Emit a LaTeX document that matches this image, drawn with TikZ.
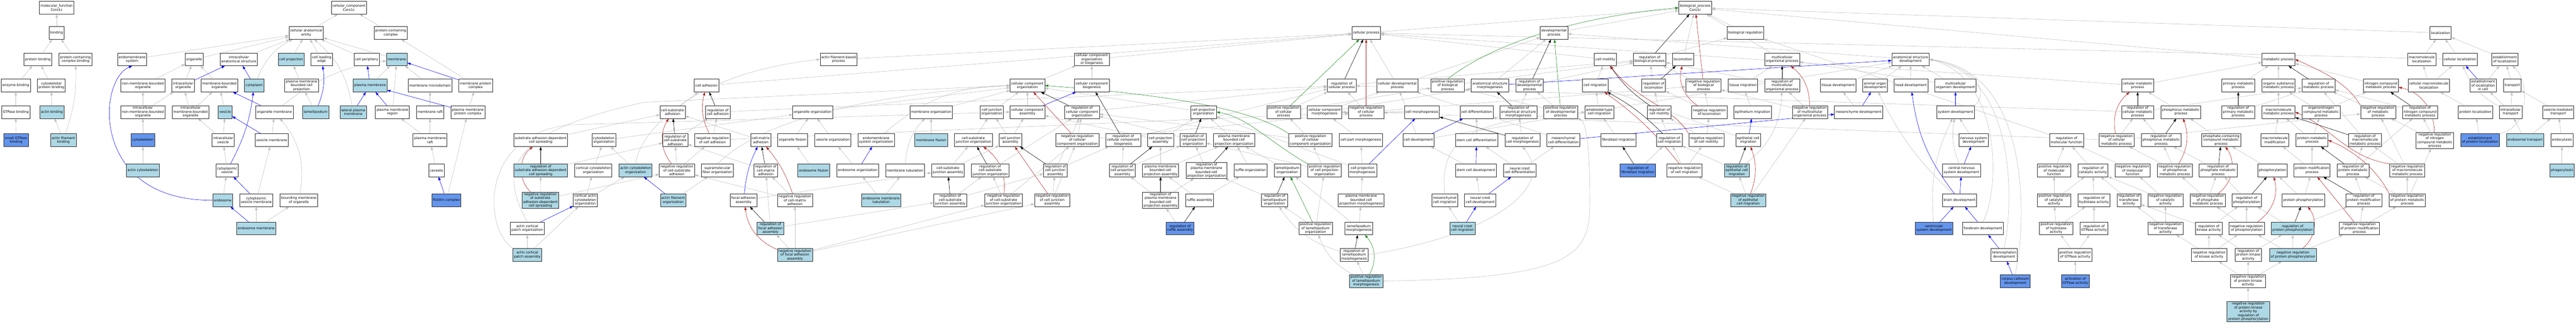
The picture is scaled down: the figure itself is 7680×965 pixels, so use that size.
\documentclass[tikz,border=0pt]{standalone}
\usepackage{fontspec}
\newfontfamily\gofont{DejaVu Sans}
\usetikzlibrary{arrows.meta,backgrounds}
\definecolor{hitblue}{HTML}{ADD8E6}
\definecolor{seedblue}{HTML}{6495ED}
\definecolor{isagray}{HTML}{C0C0C0}
\definecolor{negred}{HTML}{B22222}
\definecolor{posgreen}{HTML}{228B22}
\begin{document}
\begin{tikzpicture}[x=1pt,y=-1pt,
  term/.style={draw=black!85,line width=0.9pt,fill=white,align=center,font=\gofont\fontsize{10}{11.5}\selectfont,inner xsep=3.5pt,inner ysep=2pt,minimum height=38pt},
  hit/.style={term,fill=hitblue},
  seed/.style={term,fill=seedblue},
  link/.style={line width=0.9pt,-{Triangle[length=10pt,width=7pt]}},
  isa/.style={link,isagray},
  partof/.style={link,blue},
  regs/.style={link,black},
  negregs/.style={link,negred},
  posregs/.style={link,posgreen}]
\useasboundingbox (0,0) rectangle (7680,965);

\node[term] (mfroot) at (169,23) {molecular\_function\\Coro1c};
\node[term] (bind) at (169,98) {binding};
\node[term] (protbind) at (113,177) {protein binding};
\node[term] (pccbind) at (225,177) {protein-containing\\complex binding};
\node[term] (enzbind) at (47,255) {enzyme binding};
\node[term] (cytprotbind) at (153,255) {cytoskeletal\\protein binding};
\node[term] (gtpbind) at (47,334) {GTPase binding};
\node[hit] (actbind) at (155,334) {actin binding};
\node[seed] (sgtpbind) at (48,418) {small GTPase\\binding};
\node[hit] (actfilbind) at (189,418) {actin filament\\binding};

\node[term] (ccroot) at (1040,23) {cellular\_component\\Coro1c};
\node[term] (cae) at (913,98) {cellular anatomical\\entity};
\node[term] (pcc) at (1165,98) {protein-containing\\complex};
\node[term] (ems) at (394,177) {endomembrane\\system};
\node[term] (org) at (579,177) {organelle};
\node[term] (ias) at (712,177) {intracellular\\anatomical structure};
\node[hit] (cproj) at (868,177) {cell projection};
\node[term] (cle) at (959,177) {cell leading\\edge};
\node[term] (cper) at (1093,177) {cell periphery};
\node[hit] (mem) at (1183,177) {membrane};
\node[term] (nmbo) at (426,255) {non-membrane-bounded\\organelle};
\node[term] (io) at (546,255) {intracellular\\organelle};
\node[term] (mbo) at (654,255) {membrane-bounded\\organelle};
\node[hit] (cyto) at (758,255) {cytoplasm};
\node[term] (pmbcp) at (899,255) {plasma membrane\\bounded cell\\projection};
\node[hit] (pmemb) at (1103,255) {plasma membrane};
\node[term] (mmd) at (1282,255) {membrane microdomain};
\node[term] (mpc) at (1418,255) {membrane protein\\complex};
\node[term] (inmbo) at (426,334) {intracellular\\non-membrane-bounded\\organelle};
\node[term] (imbo) at (568,334) {intracellular\\membrane-bounded\\organelle};
\node[hit] (ves) at (671,334) {vesicle};
\node[term] (orgmem) at (818,334) {organelle membrane};
\node[hit] (lam) at (941,334) {lamellipodium};
\node[hit] (lpm) at (1053,334) {lateral plasma\\membrane};
\node[term] (pmr) at (1170,334) {plasma membrane\\region};
\node[term] (mraft) at (1282,334) {membrane raft};
\node[term] (pmpc) at (1395,334) {plasma membrane\\protein complex};
\node[seed] (cytosk) at (426,418) {cytoskeleton};
\node[term] (iv) at (665,418) {intracellular\\vesicle};
\node[term] (vesmem) at (810,418) {vesicle membrane};
\node[term] (pmraft) at (1282,418) {plasma membrane\\raft};
\node[hit] (actcyto) at (426,508) {actin cytoskeleton};
\node[term] (cv) at (677,508) {cytoplasmic\\vesicle};
\node[term] (cav) at (1301,508) {caveola};
\node[hit] (endo) at (664,597) {endosome};
\node[term] (cvm) at (764,597) {cytoplasmic\\vesicle membrane};
\node[term] (bmo) at (891,597) {bounding membrane\\of organelle};
\node[seed] (flot) at (1331,597) {flotillin complex};
\node[hit] (endomem) at (764,681) {endosome membrane};

\node[term] (sadcs) at (1612,418) {substrate adhesion-dependent\\cell spreading};
\node[term] (cso) at (1800,418) {cytoskeleton\\organization};
\node[hit] (rsadcs) at (1612,508) {regulation of\\substrate adhesion-dependent\\cell spreading};
\node[term] (cco) at (1769,508) {cortical cytoskeleton\\organization};
\node[hit] (aco) at (1895,508) {actin cytoskeleton\\organization};
\node[hit] (nrsadcs) at (1611,597) {negative regulation\\of substrate\\adhesion-dependent\\cell spreading};
\node[term] (caco) at (1745,597) {cortical actin\\cytoskeleton\\organization};
\node[term] (acpo) at (1572,681) {actin cortical\\patch organization};
\node[hit] (acpa) at (1572,760) {actin cortical\\patch assembly};
\node[term] (afbp) at (2500,177) {actin filament-based\\process};
\node[term] (cadh) at (2106,255) {cell adhesion};
\node[term] (csadh) at (2005,334) {cell-substrate\\adhesion};
\node[term] (rcadh) at (2140,334) {regulation of\\cell adhesion};
\node[term] (oo) at (2423,334) {organelle organization};
\node[term] (rcsadh) at (2013,418) {regulation of\\cell-substrate\\adhesion};
\node[term] (nrcadh) at (2124,418) {negative regulation\\of cell adhesion};
\node[term] (cmadh) at (2268,418) {cell-matrix\\adhesion};
\node[term] (ofis) at (2363,418) {organelle fission};
\node[term] (vo) at (2483,418) {vesicle organization};
\node[term] (emso) at (2612,418) {endomembrane\\system organization};
\node[term] (nrcsadh) at (2018,508) {negative regulation\\of cell-substrate\\adhesion};
\node[term] (sfo) at (2139,508) {supramolecular\\fiber organization};
\node[term] (rcmadh) at (2283,508) {regulation of\\cell-matrix\\adhesion};
\node[hit] (efis) at (2426,508) {endosome fission};
\node[term] (eo) at (2557,508) {endosome organization};
\node[hit] (afo) at (2007,597) {actin filament\\organization};
\node[term] (faa) at (2217,597) {focal adhesion\\assembly};
\node[term] (nrcmadh) at (2370,597) {negative regulation\\of cell-matrix\\adhesion};
\node[hit] (rfaa) at (2297,681) {regulation of\\focal adhesion\\assembly};
\node[hit] (nrfaa) at (2370,760) {negative regulation\\of focal adhesion\\assembly};

\node[term] (ccorg) at (3063,255) {cellular component\\organization};
\node[term] (morg) at (2776,334) {membrane organization};
\node[term] (cjo) at (2957,334) {cell junction\\organization};
\node[term] (cca) at (3063,334) {cellular component\\assembly};
\node[term] (rcco) at (3226,334) {regulation of\\cellular component\\organization};
\node[hit] (mfis) at (2776,418) {membrane fission};
\node[term] (csjo) at (2902,418) {cell-substrate\\junction organization};
\node[term] (cja) at (3012,418) {cell junction\\assembly};
\node[term] (nrcco) at (3212,418) {negative regulation\\of cellular\\component organization};
\node[term] (mtub) at (2698,508) {membrane tubulation};
\node[term] (csja) at (2826,508) {cell-substrate\\junction assembly};
\node[term] (rcsjo) at (2952,508) {regulation of\\cell-substrate\\junction organization};
\node[term] (rcja) at (3146,508) {regulation of\\cell junction\\assembly};
\node[hit] (emt) at (2627,597) {endosome membrane\\tubulation};
\node[term] (rcsja) at (2833,597) {regulation of\\cell-substrate\\junction assembly};
\node[term] (nrcsjo) at (2992,597) {negative regulation\\of cell-substrate\\junction organization};
\node[term] (nrcja) at (3137,597) {negative regulation\\of cell junction\\assembly};

\node[term] (ccob) at (3255,177) {cellular component\\organization\\or biogenesis};
\node[term] (ccb) at (3255,255) {cellular component\\biogenesis};
\node[term] (cpo) at (3588,334) {cell projection\\organization};
\node[term] (pcp) at (3827,334) {positive regulation\\of cellular\\process};
\node[term] (rccb) at (3349,418) {regulation of\\cellular component\\biogenesis};
\node[term] (cpa) at (3460,418) {cell projection\\assembly};
\node[term] (rcpo) at (3557,418) {regulation of\\cell projection\\organization};
\node[term] (pmbcpo) at (3679,418) {plasma membrane\\bounded cell\\projection organization};
\node[term] (rcpa) at (3346,508) {regulation of\\cell projection\\assembly};
\node[term] (pmbcpa) at (3460,508) {plasma membrane\\bounded cell\\projection assembly};
\node[term] (rpmbcpo) at (3597,508) {regulation of\\plasma membrane\\bounded cell\\projection organization};
\node[term] (ruforg) at (3728,508) {ruffle organization};
\node[term] (lamorg) at (3838,508) {lamellipodium\\organization};
\node[term] (rpmbcpa) at (3460,597) {regulation of\\plasma membrane\\bounded cell\\projection assembly};
\node[term] (rufa) at (3576,597) {ruffle assembly};
\node[term] (rlo) at (3800,597) {regulation of\\lamellipodium\\organization};
\node[seed] (rra) at (3518,681) {regulation of\\ruffle assembly};

\node[term] (cellproc) at (4073,98) {cellular process};
\node[term] (rcp) at (4000,255) {regulation of\\cellular process};
\node[term] (cdp) at (4166,255) {cellular developmental\\process};
\node[term] (pbp) at (4316,255) {positive regulation\\of biological\\process};
\node[term] (asm) at (4442,255) {anatomical structure\\morphogenesis};
\node[term] (ccm) at (3949,334) {cellular component\\morphogenesis};
\node[term] (nrcp) at (4073,334) {negative regulation\\of cellular\\process};
\node[term] (cmorph) at (4239,334) {cell morphogenesis};
\node[term] (cdiff) at (4402,334) {cell differentiation};
\node[term] (rasm) at (4527,334) {regulation of\\anatomical structure\\morphogenesis};
\node[term] (pcco) at (3907,418) {positive regulation\\of cellular\\component organization};
\node[term] (cpm) at (4057,418) {cell part morphogenesis};
\node[term] (cdev) at (4229,418) {cell development};
\node[term] (scdiff) at (4402,418) {stem cell differentiation};
\node[term] (ppco) at (3949,508) {positive regulation\\of cell projection\\organization};
\node[term] (cpmorph) at (4062,508) {cell projection\\morphogenesis};
\node[term] (scdev) at (4400,508) {stem cell development};
\node[term] (pmbcpm) at (4058,597) {plasma membrane\\bounded cell\\projection morphogenesis};
\node[term] (mcm) at (4307,597) {mesenchymal\\cell migration};
\node[term] (nccdev) at (4413,597) {neural crest\\cell development};
\node[term] (plo) at (3922,681) {positive regulation\\of lamellipodium\\organization};
\node[term] (lmorph) at (4051,681) {lamellipodium\\morphogenesis};
\node[hit] (nccm) at (4360,681) {neural crest\\cell migration};
\node[term] (rlm) at (4037,760) {regulation of\\lamellipodium\\morphogenesis};
\node[hit] (plm) at (4073,838) {positive regulation\\of lamellipodium\\morphogenesis};

\node[term] (bproot) at (5054,23) {biological\_process\\Coro1c};
\node[term] (dp) at (4633,98) {developmental\\process};
\node[term] (cmot) at (4786,177) {cell motility};
\node[term] (rbp) at (4918,177) {regulation of\\biological process};
\node[term] (loco) at (5018,177) {locomotion};
\node[term] (rdp) at (4560,255) {regulation of\\developmental\\process};
\node[term] (cmig) at (4756,255) {cell migration};
\node[term] (rloc) at (4930,255) {regulation of\\locomotion};
\node[term] (nbp) at (5079,255) {negative regulation\\of biological\\process};
\node[term] (pdp) at (4653,334) {positive regulation\\of developmental\\process};
\node[term] (ameb) at (4768,334) {ameboidal-type\\cell migration};
\node[term] (rcmot) at (4947,334) {regulation of\\cell motility};
\node[term] (nloc) at (5096,334) {negative regulation\\of locomotion};
\node[term] (rcmorph) at (4539,418) {regulation of\\cell morphogenesis};
\node[term] (mcdiff) at (4661,418) {mesenchymal\\cell differentiation};
\node[term] (fm) at (4825,418) {fibroblast migration};
\node[term] (rcm) at (4977,418) {regulation of\\cell migration};
\node[term] (nrcmot) at (5087,418) {negative regulation\\of cell motility};
\node[term] (nccdiff) at (4531,508) {neural crest\\cell differentiation};
\node[seed] (rfm) at (4883,508) {regulation of\\fibroblast migration};
\node[term] (nrcm) at (5022,508) {negative regulation\\of cell migration};

\node[term] (breg) at (5204,98) {biological regulation};
\node[term] (mop) at (5313,177) {multicellular\\organismal process};
\node[term] (asd) at (5696,177) {anatomical structure\\development};
\node[term] (tm) at (5196,255) {tissue migration};
\node[term] (rmop) at (5313,255) {regulation of\\multicellular\\organismal process};
\node[term] (td) at (5480,255) {tissue development};
\node[term] (aod) at (5590,255) {animal organ\\development};
\node[term] (hd) at (5697,255) {head development};
\node[term] (emig) at (5225,334) {epithelium migration};
\node[term] (nmop) at (5396,334) {negative regulation\\of multicellular\\organismal process};
\node[term] (mesdev) at (5541,334) {mesenchyme development};
\node[term] (ecm) at (5212,418) {epithelial cell\\migration};
\node[hit] (recm) at (5178,508) {regulation of\\epithelial cell\\migration};
\node[hit] (nrecm) at (5212,597) {negative regulation\\of epithelial\\cell migration};
\node[seed] (vsd) at (5766,681) {ventricular\\system development};

\node[term] (mod) at (5830,255) {multicellular\\organism development};
\node[term] (sysdev) at (5830,334) {system development};
\node[term] (nsd) at (5884,418) {nervous system\\development};
\node[term] (cnsd) at (5848,508) {central nervous\\system development};
\node[term] (bd) at (5842,597) {brain development};
\node[term] (fbd) at (5912,681) {forebrain development};
\node[term] (tel) at (5975,760) {telencephalon\\development};
\node[seed] (ccd) at (6008,838) {corpus callosum\\development};

\node[term] (cmp) at (6373,255) {cellular metabolic\\process};
\node[term] (rcmp) at (6373,334) {regulation of\\cellular metabolic\\process};
\node[term] (rmf) at (6161,418) {regulation of\\molecular function};
\node[term] (nrcmp) at (6310,418) {negative regulation\\of cellular\\metabolic process};
\node[term] (rphmp) at (6443,418) {regulation of\\phosphorus metabolic\\process};
\node[term] (prmf) at (6124,508) {positive regulation\\of molecular\\function};
\node[term] (rca) at (6240,508) {regulation of\\catalytic activity};
\node[term] (nrmf) at (6358,508) {negative regulation\\of molecular\\function};
\node[term] (prca) at (6124,597) {positive regulation\\of catalytic\\activity};
\node[term] (rha) at (6243,597) {regulation of\\hydrolase activity};
\node[term] (rta) at (6347,597) {regulation of\\transferase\\activity};
\node[term] (prha) at (6130,681) {positive regulation\\of hydrolase\\activity};
\node[term] (rgta) at (6243,681) {regulation of\\GTPase activity};
\node[term] (prgta) at (6187,760) {positive regulation\\of GTPase activity};
\node[seed] (agta) at (6187,838) {activation of\\GTPase activity};

\node[term] (metp) at (6793,177) {metabolic process};
\node[term] (pmp) at (6673,255) {primary metabolic\\process};
\node[term] (osmp) at (6793,255) {organic substance\\metabolic process};
\node[term] (rmp) at (6912,255) {regulation of\\metabolic process};
\node[term] (phmp) at (6502,334) {phosphorus metabolic\\process};
\node[term] (rpmp) at (6673,334) {regulation of\\primary metabolic\\process};
\node[term] (mmp) at (6793,334) {macromolecule\\metabolic process};
\node[term] (onmp) at (6920,334) {organonitrogen\\compound metabolic\\process};
\node[term] (pcmp) at (6622,418) {phosphate-containing\\compound metabolic\\process};
\node[term] (mmod) at (6782,418) {macromolecule\\modification};
\node[term] (pmetp) at (6893,418) {protein metabolic\\process};
\node[term] (nrphmp) at (6484,508) {negative regulation\\of phosphorus\\metabolic process};
\node[term] (rphomp) at (6613,508) {regulation of\\phosphate metabolic\\process};
\node[term] (phos) at (6775,508) {phosphorylation};
\node[term] (pmodp) at (6893,508) {protein modification\\process};
\node[term] (nrca) at (6456,597) {negative regulation\\of catalytic\\activity};
\node[term] (nrphomp) at (6582,597) {negative regulation\\of phosphate\\metabolic process};
\node[term] (rphos) at (6698,597) {regulation of\\phosphorylation};
\node[term] (pphos) at (6867,597) {protein phosphorylation};
\node[term] (nrta) at (6456,681) {negative regulation\\of transferase\\activity};
\node[term] (rka) at (6585,681) {regulation of\\kinase activity};
\node[term] (nrphos) at (6698,681) {negative regulation\\of phosphorylation};
\node[hit] (rpp) at (6835,681) {regulation of\\protein phosphorylation};
\node[term] (nrka) at (6586,760) {negative regulation\\of kinase activity};
\node[term] (rpka) at (6703,760) {regulation of\\protein kinase\\activity};
\node[hit] (nrpp) at (6836,760) {negative regulation\\of protein phosphorylation};
\node[term] (nrpka) at (6702,838) {negative regulation\\of protein kinase\\activity};
\node[hit] (nrpkab) at (6703,929) {negative regulation\\of protein kinase\\activity by\\regulation of\\protein phosphorylation};

\node[term] (loc) at (7276,98) {localization};
\node[term] (mloc) at (7220,177) {macromolecule\\localization};
\node[term] (cloc) at (7334,177) {cellular localization};
\node[term] (eloc) at (7468,177) {establishment\\of localization};
\node[term] (ncmp) at (7098,255) {nitrogen compound\\metabolic process};
\node[term] (cml) at (7241,255) {cellular macromolecule\\localization};
\node[term] (elic) at (7403,255) {establishment\\of localization\\in cell};
\node[term] (tr) at (7490,255) {transport};
\node[term] (nmp) at (7090,334) {negative regulation\\of metabolic\\process};
\node[term] (rncmp) at (7215,334) {regulation of\\nitrogen compound\\metabolic process};
\node[term] (ploc) at (7380,334) {protein localization};
\node[term] (itr) at (7485,334) {intracellular\\transport};
\node[term] (vmt) at (7627,334) {vesicle-mediated\\transport};
\node[term] (rmmp) at (7051,418) {regulation of\\macromolecule\\metabolic process};
\node[term] (nrncmp) at (7259,419) {negative regulation\\of nitrogen\\compound metabolic\\process};
\node[seed] (epl) at (7394,418) {establishment\\of protein localization};
\node[hit] (etr) at (7528,418) {endosomal transport};
\node[term] (endocyt) at (7638,418) {endocytosis};
\node[term] (rprmp) at (7015,508) {regulation of\\protein metabolic\\process};
\node[term] (nrmmp) at (7177,508) {negative regulation\\of macromolecule\\metabolic process};
\node[hit] (phago) at (7638,508) {phagocytosis};
\node[term] (rpmodp) at (7047,597) {regulation of\\protein modification\\process};
\node[term] (nrprmp) at (7177,597) {negative regulation\\of protein metabolic\\process};
\node[term] (nrpmodp) at (7034,681) {negative regulation\\of protein modification\\process};

\begin{scope}[on background layer]
\fill[white] (0,0) rectangle (7680,965);
\foreach \a/\b in {bind/mfroot, protbind/bind, pccbind/bind, enzbind/protbind, cytprotbind/protbind, gtpbind/enzbind, sgtpbind/gtpbind, actbind/cytprotbind, actfilbind/actbind,
  cae/ccroot, pcc/ccroot, ems/cae, org/cae, ias/cae, cproj/cae, cle/cae, cper/cae, mem/cae, nmbo/org, io/org, mbo/org, inmbo/nmbo, inmbo/io, imbo/io, imbo/mbo, cytosk/inmbo, actcyto/cytosk, iv/imbo, ves/mbo, iv/ves, cv/iv, endo/cv, vesmem/orgmem, cvm/vesmem, endomem/cvm, endomem/bmo, pmbcp/cproj, lam/pmbcp, pmemb/mem, pmr/mem, mmd/mem, mpc/pcc, pmpc/mpc, mraft/mmd, pmraft/mraft, pmraft/pmr, cav/pmraft, flot/pmpc,
  nrsadcs/rsadcs, sadcs/csadh, cso/oo, cco/cso, aco/cso, caco/cco, caco/aco, acpa/acpo, acpa/caco, rsadcs/rcsadh, nrsadcs/nrcsadh, afo/sfo, afbp/cellproc, cadh/cellproc, csadh/cadh, nrcadh/rcadh, rcadh/rcp, rcsadh/rcadh, nrcsadh/rcsadh, nrcsadh/nrcadh, nrcadh/nrcp, cmadh/csadh, rcmadh/rcsadh, nrcmadh/rcmadh, nrcmadh/nrcsadh, faa/csja, rfaa/rcmadh, rfaa/rcsja, nrfaa/rfaa, nrfaa/nrcmadh, nrfaa/nrcsjo, nrfaa/nrcja, ofis/oo, vo/oo, efis/ofis, eo/vo, emt/eo, emt/mtub, mfis/morg, morg/ccorg, oo/ccorg,
  cjo/ccorg, cca/ccorg, csjo/cjo, cja/cjo, cja/cca, csja/csjo, csja/cja, rcsjo/rcco, rcsja/rcsjo, rcsja/rcja, nrcsjo/rcsjo, nrcsjo/nrcco, rcja/rcco, rcja/rccb, nrcja/rcja, nrcja/nrcco, cpa/cca, ccorg/ccob, ccb/ccob, ccob/cellproc,
  rccb/rcp, rcco/rcp, nrcco/rcco, nrcco/nrcp, cpa/cpo, cpo/ccorg, rcpo/rcco, pmbcpo/cpo, rcpa/rccb, rcpa/rcpo, pmbcpa/cpa, pmbcpa/pmbcpo, rpmbcpo/rcpo, rlo/rpmbcpo, ruforg/pmbcpo, lamorg/pmbcpo, rpmbcpa/rcpa, rpmbcpa/rpmbcpo, rufa/pmbcpa, rufa/ruforg, rra/rpmbcpa, ppco/rcpo,
  cdp/cellproc, pcp/rcp, pcp/pbp, ccm/cdp, ccm/asm, cpm/ccm, nrcp/rcp, nrcp/nbp, cmorph/ccm, cdiff/cdp, cdev/cdp, cdev/asd, scdiff/cdiff, scdev/cdev, nccdev/scdev, nccm/mcm, nccdiff/mcdiff, nccdiff/scdiff, mcdiff/cdiff, cpmorph/cpm, pmbcpm/cpmorph, lmorph/pmbcpm, lmorph/lamorg, cpmorph/cpo, ppco/pcco, pcco/rcco, pcco/pcp, plo/ppco, plo/rlo, plm/rlm,
  dp/bproot, cellproc/bproot, loco/bproot, breg/bproot, mop/bproot, metp/bproot, loc/bproot, cdp/dp, asm/dp, asd/dp, cmot/cellproc, cmig/cmot, ameb/cmig, fm/ameb, rfm/rcm, rcm/rcmot, rcmot/rloc, rloc/rbp, nloc/rloc, nloc/nbp, nbp/rbp, nrcmot/rcmot, nrcmot/nloc, nrcm/rcm, nrcm/nrcmot, rbp/breg, rdp/rbp, pdp/rdp, pdp/pbp, pbp/rbp, rasm/rdp, rcmorph/rasm, rcp/rbp,
  tm/mop, rmop/rbp, nmop/rmop, nmop/nbp, emig/tm, ecm/cmig, recm/rcm, nrecm/recm, nrecm/nmop, nrecm/nrcm, td/asd, aod/asd, hd/asd, mesdev/td, mod/mop, mod/asd, nsd/sysdev,
  cmp/metp, cmp/cellproc, rcmp/rmp, rcmp/rcp, nrcmp/rcmp, nrcmp/nrcp, nrcmp/nmp, rmf/breg, prmf/rmf, rca/rmf, nrmf/rmf, prca/prmf, prca/rca, rha/rca, rta/rca, prha/prca, prha/rha, rgta/rha, prgta/prha, prgta/rgta, agta/prgta, nrca/rca, nrca/nrmf, nrta/nrca, nrta/rta, rka/rta,
  pmp/metp, osmp/metp, phmp/cmp, rpmp/rmp, mmp/osmp, onmp/osmp, onmp/ncmp, ncmp/metp, nmp/rmp, rphmp/rcmp, pcmp/phmp, mmod/mmp, pmetp/mmp, pmetp/onmp, rmmp/rmp, nrphmp/rphmp, nrphmp/nrcmp, rphomp/rphmp, phos/pcmp, pmodp/mmod, pmodp/pmetp, rprmp/rmmp, rprmp/rncmp, nrphomp/rphomp, nrphomp/nrphmp, rphos/rphomp, pphos/phos, pphos/pmodp, rpmodp/rprmp, rka/rphos, nrphos/rphos, nrphos/nrphomp, rpp/rphos, rpp/rpmodp, nrpmodp/rpmodp, nrpmodp/nrprmp, nrka/rka, nrka/nrta, nrka/nrphos, rpka/rka, rpka/rpp, nrpp/rpp, nrpp/nrphos, nrpp/nrpmodp, nrpka/nrka, nrpka/rpka, nrpka/nrpp, nrpkab/nrpka,
  mloc/loc, cloc/loc, eloc/loc, cloc/cellproc, cml/mloc, cml/cloc, elic/eloc, tr/eloc, nrncmp/rncmp, nrncmp/nmp, rncmp/rmp, ploc/cml, itr/elic, itr/tr, vmt/tr, epl/ploc, etr/itr, etr/vmt, endocyt/vmt, phago/endocyt, nrmmp/rmmp, nrmmp/nmp, nrprmp/nrmmp, nrprmp/rprmp, nrprmp/nrncmp}
  \draw[isa] (\a) -- (\b);
\draw[isa] (actfilbind) to[bend right=10] (pccbind);
\draw[isa] (cyto) to[bend left=20] (cae);
\draw[isa] (lpm) to[bend right=20] (cae);
\draw[isa] (orgmem) to[bend left=15] (mem);
\draw[isa] (bmo) to[bend right=25] (orgmem);
\draw[isa] (aco.north) .. controls (1905,400) and (2050,220) .. (afbp.west);
\draw[isa] (acpo.north) .. controls (1470,480) and (1560,385) .. (1920,305) -- (ccorg.west);
\draw[isa] (acpa.north west) .. controls (1440,680) and (1430,400) .. (1700,372) -- (cca.west);
\draw[isa] (sfo.north) .. controls (2250,380) and (2500,290) .. (ccorg.west);
\draw[isa] (emso) to[bend left=20] (ccorg);
\draw[isa] (mtub) to[bend left=20] (morg);
\draw[isa] (mcm.north) .. controls (4290,400) and (4400,360) .. (ameb.west);
\draw[isa] (plm) to[bend left=20] (plo);
\draw[isa] (plm.east) .. controls (4700,830) and (4740,760) .. (4740,600) .. controls (4740,380) and (4720,360) .. (pdp);
\draw[isa] (rlm) to[bend left=20] (rlo);
\draw[isa] (rlm.east) .. controls (4450,700) and (4640,560) .. (rcmorph.south);
\draw[isa] (recm) to[bend right=25] (rmop);
\draw[isa] (sysdev.north east) .. controls (5920,290) and (5920,210) .. (asd.east);
\draw[isa] (cnsd) to[bend left=15] (sysdev);
\draw[isa] (bd) to[bend left=10] (aod);
\draw[isa] (vsd) to[bend left=15] (sysdev);
\draw[isa] (fbd.north) .. controls (5965,560) and (5965,230) .. (asd.east);
\draw[isa] (tel.north) .. controls (6005,600) and (6010,220) .. (asd.east);
\draw[isa] (ccd.north) .. controls (6045,650) and (6050,210) .. (asd.east);
\draw[isa] (itr) to[bend left=20] (cloc);
\draw[isa] (epl.north east) .. controls (7545,380) and (7540,240) .. (eloc);

\foreach \a/\b in {io/ias, cyto/ias, orgmem/mbo, vesmem/ves, cvm/cv, endomem/endo, pmemb/cper, lpm/pmemb, pmr/pmemb, mpc/mem, pmpc/pmemb, flot/cav, acpo/caco, afo/aco, eo/emso, cca/ccb, cpmorph/cmorph, cdev/cdiff, scdev/scdiff, nccdev/nccdiff, nccm/nccdev, asm/asd, mcdiff/mesdev, ecm/emig, mesdev/aod, sysdev/mod, cnsd/nsd, bd/cnsd, vsd/bd, fbd/bd, tel/fbd, ccd/tel, elic/cloc}
  \draw[partof] (\a) -- (\b);
\draw[partof] (endo.west) .. controls (270,600) and (290,240) .. (ems.south);
\draw[partof] (cv) to[bend right=10] (cyto);
\draw[partof] (lam) to[bend right=15] (cle);
\draw[partof] (faa) to[bend left=10] (cmadh);
\draw[partof] (bd) to[bend left=15] (hd);

\foreach \a/\b in {rsadcs/sadcs, rcadh/cadh, rcsadh/csadh, rcmadh/cmadh, rfaa/faa, rcsjo/csjo, rcsja/csja, rcja/cja, rcco/ccorg, rccb/ccb, rcpa/cpa, rcpo/cpo, rpmbcpo/pmbcpo, rpmbcpa/pmbcpa, rra/rufa, rlo/lamorg, rcp/cellproc, rlm/lmorph, rdp/dp, rbp/bproot, rloc/loco, rfm/fm, rasm/asm, rcmorph/cmorph, rmop/mop, recm/ecm, rcmp/cmp, rpmp/pmp, rphmp/phmp, rphomp/pcmp, rphos/phos, rpp/pphos, rpmodp/pmodp, rprmp/pmetp, rmmp/mmp, rmp/metp, rncmp/ncmp}
  \draw[regs] (\a) -- (\b);
\draw[regs] (rcmot) to[bend left=10] (cmot);
\draw[regs] (rcm) to[bend right=8] (cmig);

\foreach \a/\b in {nrcja/cja, nrcco/ccorg, nrcp/cellproc, nbp/bproot, nrpmodp/pmodp}
  \draw[negregs] (\a) -- (\b);
\draw[negregs] (nrsadcs) to[bend left=50] (sadcs);
\draw[negregs] (nrcadh) to[bend left=20] (cadh);
\draw[negregs] (nrcsadh) to[bend left=35] (csadh);
\draw[negregs] (nrcmadh) to[bend right=10] (cmadh);
\draw[negregs] (nrfaa) to[bend left=30] (faa);
\draw[negregs] (nrcsjo) to[bend right=30] (csjo);
\draw[negregs] (nrcmot.north west) .. controls (4990,320) and (4880,300) .. (cmot);
\draw[negregs] (nrcm) to[bend right=8] (cmig);
\draw[negregs] (nloc) to[bend left=35] (loco);
\draw[negregs] (nmop) to[bend right=25] (mop);
\draw[negregs] (nrecm) to[bend right=20] (ecm);
\draw[negregs] (nrcmp) to[bend left=30] (cmp);
\draw[negregs] (nrphmp) to[bend right=25] (phmp);
\draw[negregs] (nrphomp) to[bend right=45] (pcmp);
\draw[negregs] (nrphos) to[bend right=35] (phos);
\draw[negregs] (nrpp) to[bend right=45] (pphos);
\draw[negregs] (nmp.north west) .. controls (7000,250) and (6930,215) .. (metp.east);
\draw[negregs] (nrmmp.north west) .. controls (7000,470) and (6950,380) .. (mmp.east);
\draw[negregs] (nrprmp.north west) .. controls (7090,510) and (7020,450) .. (pmetp.east);
\draw[negregs] (nrncmp) to[bend right=40] (ncmp);

\foreach \a/\b in {plo/lamorg, pcp/cellproc, pdp/dp}
  \draw[posregs] (\a) -- (\b);
\draw[posregs] (pcco.north west) .. controls (3700,300) and (3300,270) .. (ccorg.east);
\draw[posregs] (ppco.north west) .. controls (3780,420) and (3720,350) .. (cpo.east);
\draw[posregs] (pbp.north) .. controls (4450,130) and (4700,50) .. (bproot.west);
\draw[posregs] (plm) to[bend right=35] (lmorph);
\end{scope}
\end{tikzpicture}
\end{document}
